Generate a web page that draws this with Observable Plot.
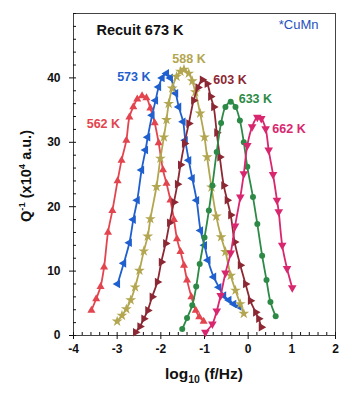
<!DOCTYPE html>
<html>
<head>
<meta charset="utf-8">
<script src="https://cdn.jsdelivr.net/npm/d3@7"></script>
<script src="https://cdn.jsdelivr.net/npm/@observablehq/plot@0.6"></script>
<style>
  html, body { margin: 0; padding: 0; background: #fff; }
  #chart { width: 342px; height: 394px; }
</style>
</head>
<body>
<div id="chart"></div>
<script>
// ---- data (log10 f/Hz, Q^-1 x10^4 a.u.) ----
const series = ["562 K", "573 K", "588 K", "603 K", "633 K", "662 K"];
const colors = ["#e3454f", "#1f5fce", "#b3a650", "#8c2833", "#2d8a46", "#d8276f"];
const s562 = [[-3.59,3.9],[-3.48,5.7],[-3.38,7.6],[-3.30,10.6],[-3.21,16],[-3.11,19.4],[-2.99,24],[-2.90,27.2],[-2.79,30.3],[-2.72,33.9],[-2.63,35.5],[-2.54,36.7],[-2.43,37.2],[-2.33,36.9],[-2.24,35.3],[-2.14,33],[-2.05,29.9],[-1.95,25.7],[-1.87,23.6],[-1.78,21],[-1.70,18],[-1.63,15],[-1.55,13],[-1.47,10.9],[-1.40,8.6],[-1.30,6],[-1.20,3.9],[-1.12,2.9],[-1.02,2.2]];
const s573 = [[-2.99,8],[-2.85,11.2],[-2.72,14.4],[-2.63,18],[-2.54,21],[-2.44,25.7],[-2.35,28.8],[-2.30,30.8],[-2.20,34.2],[-2.12,36.5],[-2.05,38.6],[-1.97,40],[-1.87,40.7],[-1.78,40],[-1.66,37.6],[-1.59,35.5],[-1.49,33.2],[-1.44,30.3],[-1.36,27.2],[-1.28,24.4],[-1.18,21],[-1.09,16.3],[-1.00,14],[-0.92,11.7],[-0.79,9.1],[-0.67,7.5],[-0.56,6.2],[-0.44,5.5],[-0.33,4.9],[-0.21,4.5]];
const s588 = [[-3.0,2.2],[-2.89,3.1],[-2.79,4.1],[-2.69,5.5],[-2.59,7.5],[-2.49,10.1],[-2.39,13.1],[-2.30,15.4],[-2.24,18.1],[-2.10,23.1],[-2.01,27.5],[-1.93,30.8],[-1.87,33.5],[-1.82,36],[-1.74,38.4],[-1.64,40.2],[-1.55,41],[-1.47,41.3],[-1.36,40.7],[-1.28,39.5],[-1.21,37.8],[-1.10,34.5],[-1.00,30.8],[-0.94,27.7],[-0.84,23],[-0.73,18.5],[-0.62,15.3],[-0.52,13],[-0.40,9.3],[-0.29,7],[-0.18,4.9],[-0.10,3.4]];
const s603 = [[-2.58,0.5],[-2.48,1.4],[-2.39,2.6],[-2.30,3.9],[-2.20,6],[-2.08,8.3],[-1.99,11.4],[-1.89,14.3],[-1.80,17.5],[-1.70,20.7],[-1.62,23.5],[-1.55,26.5],[-1.46,29.8],[-1.36,32.9],[-1.25,36.5],[-1.15,38.5],[-1.05,39.7],[-0.94,39.1],[-0.86,37.1],[-0.79,35.5],[-0.72,31.5],[-0.65,27.7],[-0.56,23.3],[-0.48,21],[-0.40,18.7],[-0.31,14.5],[-0.18,10.9],[-0.06,8],[0.05,5.4],[0.17,3.6],[0.24,2.6],[0.30,1.3]];
const s633 = [[-1.51,1.0],[-1.40,2.7],[-1.28,4.7],[-1.19,7.6],[-1.11,11.1],[-1.00,15.2],[-0.90,19.4],[-0.82,23.3],[-0.72,28.5],[-0.62,33],[-0.52,35.5],[-0.40,36.3],[-0.29,35.5],[-0.19,33.4],[-0.10,30],[-0.02,26.2],[0.11,21.5],[0.21,17.3],[0.32,12.4],[0.42,8.6],[0.51,5.2],[0.63,3.0]];
const s662 = [[-0.98,0.5],[-0.82,1.8],[-0.72,3.8],[-0.63,6.2],[-0.52,9.7],[-0.40,12.8],[-0.30,17],[-0.18,21.5],[-0.10,25.1],[-0.02,29.5],[0.09,32.4],[0.21,33.9],[0.30,33.7],[0.40,32.1],[0.47,28.8],[0.57,25],[0.66,21],[0.70,19.2],[0.78,14],[0.89,10.4],[1.01,7.4]];
const xTicks = [-4, -3, -2, -1, 0, 1, 2];
const yTicks = [0, 10, 20, 30, 40];
const titleText = "Recuit 673 K";
const alloyText = "*CuMn";

// ---- build ----
const allSeries = [s562, s573, s588, s603, s633, s662];
const rows = allSeries.flatMap((s, i) => s.map(([x, y]) => ({series: series[i], x, y})));

const symbols = ["triangle", "triangle", "star", "triangle", "circle", "triangle"];
const rotates = [0, -90, 0, 90, 0, 180];
const sizes = [3.0, 3.2, 3.4, 3.2, 3.0, 3.2];
// label placement relative to each curve's peak (pixels)
const labelOpts = [
  {textAnchor: "end", dx: -22, dy: 28},
  {textAnchor: "end", dx: -16, dy: 4},
  {textAnchor: "middle", dx: 5, dy: -11},
  {textAnchor: "start", dx: 11, dy: 0},
  {textAnchor: "start", dx: 8, dy: -3},
  {textAnchor: "start", dx: 15, dy: 12}
];

const W = 342, H = 394, mL = 73, mR = 7, mT = 13, mB = 59;
const font = "Liberation Sans, Arial, Helvetica, sans-serif";

const marks = [
  Plot.frame({stroke: "#444", strokeWidth: 1}),
  Plot.axisX(xTicks, {tickSize: 4, tickPadding: 5, fontWeight: "bold", fontSize: 12, label: null, tickFormat: d => d}),
  Plot.axisX(d3.range(-4, 2.001, 0.2).map(v => +v.toFixed(1)), {tickSize: -3, tickFormat: () => "", label: null}),
  Plot.axisY(yTicks, {tickSize: 4, tickPadding: 9, fontWeight: "bold", fontSize: 12, label: null}),
  Plot.axisY(d3.range(0, 50.001, 2), {tickSize: -3, tickFormat: () => "", label: null})
];

series.forEach((name, i) => {
  const d = rows.filter(r => r.series === name);
  marks.push(Plot.line(d, {x: "x", y: "y", stroke: colors[i], strokeWidth: 1.8, curve: "catmull-rom"}));
  marks.push(Plot.dot(d, {x: "x", y: "y", fill: colors[i], stroke: "none", r: sizes[i], symbol: symbols[i], rotate: rotates[i]}));
  marks.push(Plot.text(d, Plot.selectMaxY({x: "x", y: "y", text: () => name, fill: colors[i], fontWeight: "bold", fontSize: 12.5, ...labelOpts[i]})));
});

marks.push(Plot.text([titleText], {frameAnchor: "top-left", dx: 23, dy: 11, text: d => d, fontWeight: "bold", fontSize: 14.5, fill: "#111", textAnchor: "start"}));
marks.push(Plot.text([alloyText], {frameAnchor: "top-right", dx: -17, dy: 6, text: d => d, fontSize: 13, fill: "#1f4fc0", textAnchor: "end"}));

const chart = Plot.plot({
  width: W, height: H,
  marginLeft: mL, marginRight: mR, marginTop: mT, marginBottom: mB,
  style: {fontFamily: font, background: "#fff", color: "#111"},
  x: {domain: [-4, 2]},
  y: {domain: [0, 50]},
  marks
});

const svg = d3.select(chart);
// X axis label with subscript
const xl = svg.append("text")
  .attr("x", (mL + W - mR) / 2)
  .attr("y", H - 15)
  .attr("text-anchor", "middle")
  .attr("font-family", font).attr("font-weight", "bold").attr("font-size", 15.5).attr("fill", "#111");
xl.append("tspan").text("log");
xl.append("tspan").attr("font-size", 10.5).attr("dy", 4).text("10");
xl.append("tspan").attr("dy", -4).text(" (f/Hz)");
// Y axis label with superscripts
const yl = svg.append("text")
  .attr("transform", `translate(31,${(mT + H - mB) / 2 + 2}) rotate(-90)`)
  .attr("text-anchor", "middle")
  .attr("font-family", font).attr("font-weight", "bold").attr("font-size", 14.5).attr("fill", "#111");
yl.append("tspan").text("Q");
yl.append("tspan").attr("font-size", 9.5).attr("dy", -6).text("-1");
yl.append("tspan").attr("dy", 6).text(" (x10");
yl.append("tspan").attr("font-size", 9.5).attr("dy", -6).text("4");
yl.append("tspan").attr("dy", 6).text(" a.u.)");

document.getElementById("chart").appendChild(chart);
</script>
</body>
</html>
